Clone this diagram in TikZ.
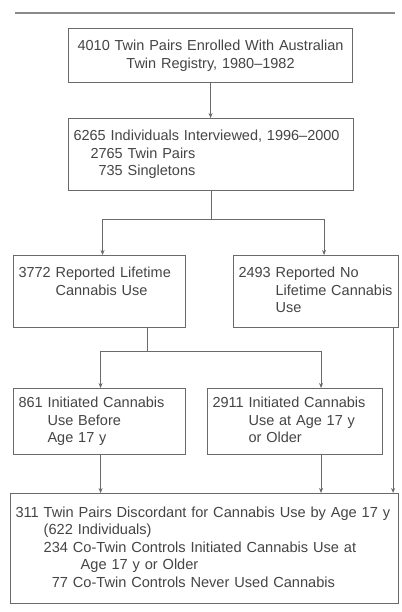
\documentclass[tikz,border=0pt]{standalone}
\usepackage{fontspec}
\setmainfont{Liberation Sans}
\usetikzlibrary{arrows.meta}
\definecolor{linegray}{HTML}{6A6A6A}
\definecolor{rulegray}{HTML}{8A8A8A}
\definecolor{textgray}{HTML}{454545}
\newcommand{\fsz}{\fontsize{14.5}{17.5}\selectfont}
\newcommand{\fszb}{\fontsize{14.6}{17.5}\selectfont}
\begin{document}
\begin{tikzpicture}[x=1pt,y=-1pt,
  box/.style={draw=linegray,line width=1.1pt,anchor=north west,inner xsep=5pt,inner ysep=0pt,align=left,font=\fsz,text=textgray},
  arr/.style={draw=linegray,line width=1pt,-{Stealth[length=5pt,width=4pt]}},
  conn/.style={draw=linegray,line width=1pt}]
\useasboundingbox (0,0) rectangle (401,612);
\fill[white] (0,0) rectangle (401,612);
\draw[rulegray,line width=2pt] (15,13) -- (395,13);

\node[box,align=center,text width=274pt,minimum height=54pt] (b1) at (68,28)
  {4010 Twin Pairs Enrolled With Australian\\Twin Registry, 1980–1982};

\node[box,text width=275pt,minimum height=72pt] (b2) at (68,118)
  {\begin{tabular}{@{}l@{}}6265 Individuals Interviewed, 1996–2000\\
   \hspace*{17pt}2765 Twin Pairs\\
   \hspace*{17pt}\hphantom{0}735 Singletons\end{tabular}};

\node[box,text width=162pt,minimum height=72pt] (r2l) at (13,255)
  {\begin{tabular}{@{}l@{\ }l@{}}3772 & Reported Lifetime\\ & Cannabis Use\\ & \end{tabular}};
\node[box,text width=155pt,minimum height=72pt] (r2r) at (233,255)
  {\begin{tabular}{@{}l@{\ }l@{}}2493 & Reported No\\ & Lifetime Cannabis\\ & Use\end{tabular}};

\node[box,text width=162pt,minimum height=66pt] (r3l) at (13,388)
  {\begin{tabular}{@{}l@{\ }l@{}}861 & Initiated Cannabis\\ & Use Before\\ & Age 17 y\end{tabular}};
\node[box,text width=165pt,minimum height=66pt] (r3r) at (207,388)
  {\begin{tabular}{@{}l@{\ }l@{}}2911 & Initiated Cannabis\\ & Use at Age 17 y\\ & or Older\end{tabular}};

\node[box,font=\fszb,text width=378pt,minimum height=110pt] (bb) at (10,493)
  {\begin{tabular}{@{}l@{\ }l@{}}311 & Twin Pairs Discordant for Cannabis Use by Age 17 y\\
   & (622 Individuals)\\
   & 234 Co-Twin Controls Initiated Cannabis Use at\\
   & \hspace*{37pt}Age 17 y or Older\\
   & \hphantom{2}77 Co-Twin Controls Never Used Cannabis\end{tabular}};

% connectors
\draw[arr] (b1.south) -- (b1.south |- b2.north);
\path (b2.south) ++(0,28) coordinate (j1);
\coordinate (t2l) at ([xshift=3pt]r2l.north);
\coordinate (t2r) at ([xshift=8pt]r2r.north);
\draw[conn] (b2.south) -- (j1);
\draw[arr] (j1) -| (t2l);
\draw[arr] (j1) -| (t2r);

\coordinate (s2) at ([xshift=48pt]r2l.south);
\path (s2) ++(0,23) coordinate (j2);
\coordinate (t3l) at ([xshift=1pt]r3l.north);
\coordinate (t3r) at ([xshift=26pt]r3r.north);
\draw[conn] (s2) -- (j2);
\draw[arr] (j2) -| (t3l);
\draw[arr] (j2) -| (t3r);

\coordinate (a1) at ([xshift=1pt]r3l.south);
\coordinate (a2) at ([xshift=26pt]r3r.south);
\coordinate (a3) at ([xshift=-6pt]r2r.south east);
\draw[arr] (a1) -- (a1 |- bb.north);
\draw[arr] (a2) -- (a2 |- bb.north);
\draw[arr] (a3) -- (a3 |- bb.north);
\end{tikzpicture}
\end{document}
